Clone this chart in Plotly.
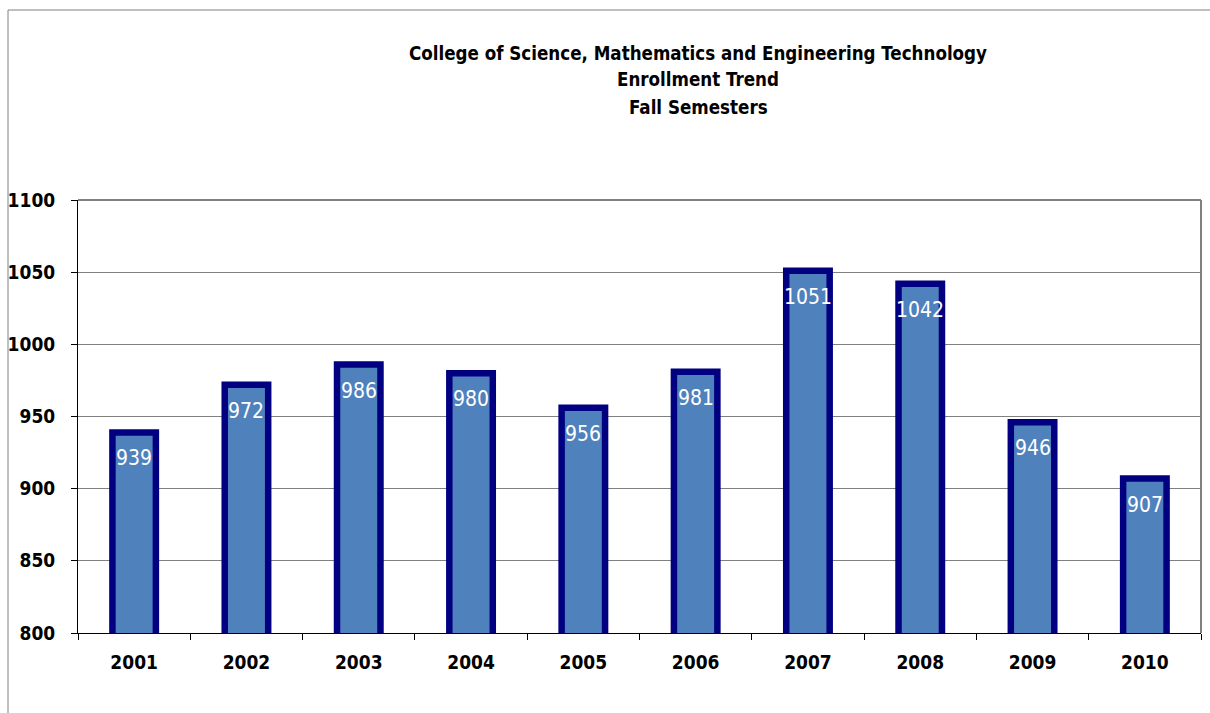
import plotly.graph_objects as go

years = ["2001", "2002", "2003", "2004", "2005", "2006", "2007", "2008", "2009", "2010"]
enrollment = [939, 972, 986, 980, 956, 981, 1051, 1042, 946, 907]
title_lines = ["College of Science, Mathematics and Engineering Technology",
               "Enrollment Trend", "Fall Semesters"]

FONT = "DejaVu Sans Condensed, Liberation Sans Narrow, Roboto Condensed, Roboto, sans-serif"

L, R, T, B = 78, 9, 200, 80
W, H = 1210, 713
pw = W - L - R
ph = H - T - B

def px_to_paper_x(px):
    return (px - L) / pw

def px_to_paper_y(py):
    return (H - B - py) / ph

fig = go.Figure()
fig.add_trace(go.Bar(
    x=years, y=enrollment,
    marker=dict(color="#4F81BD", line=dict(color="#000080", width=6.5)),
    hoverinfo="x+y",
))

for i, v in enumerate(enrollment):
    fig.add_annotation(x=i, y=v, xref="x", yref="y", text=str(v), showarrow=False,
                       yanchor="middle", yshift=-26,
                       font=dict(family=FONT, size=21, color="white"))

title_y = [53, 79, 107]
for line, py in zip(title_lines, title_y):
    fig.add_annotation(x=px_to_paper_x(698), y=px_to_paper_y(py), xref="paper", yref="paper",
                       text="<b>" + line + "</b>", showarrow=False,
                       xanchor="center", yanchor="middle",
                       font=dict(family=FONT, size=18.6, color="black"))

# outer chart border
fig.add_shape(type="line", xref="paper", yref="paper",
              x0=px_to_paper_x(8), x1=px_to_paper_x(1220),
              y0=px_to_paper_y(10), y1=px_to_paper_y(10),
              line=dict(color="#808080", width=1))
fig.add_shape(type="line", xref="paper", yref="paper",
              x0=px_to_paper_x(8), x1=px_to_paper_x(8),
              y0=px_to_paper_y(10), y1=px_to_paper_y(715),
              line=dict(color="#808080", width=1))
# plot area top/right border
fig.add_shape(type="line", xref="paper", yref="paper", x0=0, x1=1, y0=1, y1=1,
              line=dict(color="#808080", width=2))
fig.add_shape(type="line", xref="paper", yref="paper", x0=1, x1=1, y0=0, y1=1,
              line=dict(color="#808080", width=2))

fig.update_layout(
    width=W, height=H,
    margin=dict(l=L, r=R, t=T, b=B, autoexpand=False),
    paper_bgcolor="white", plot_bgcolor="white",
    bargap=0.613, showlegend=False,
    font=dict(family=FONT, color="black"),
)
fig.update_xaxes(
    type="category", showline=True, linecolor="black", linewidth=1,
    ticks="outside", tickson="boundaries", ticklen=6, tickcolor="black",
    tickfont=dict(family=FONT, size=19, color="black"),
    tickprefix="<b>", ticksuffix="</b>", tickangle=0,
    showgrid=False, automargin=False, ticklabelstandoff=12,
)
fig.update_yaxes(
    range=[800, 1100], dtick=50, showline=True, linecolor="black", linewidth=1,
    ticks="outside", ticklen=6, tickcolor="black",
    tickfont=dict(family=FONT, size=19, color="black"),
    tickprefix="<b>", ticksuffix="</b>",
    showgrid=True, gridcolor="#808080", gridwidth=1,
    ticklabelstandoff=12, zeroline=False, automargin=False,
)

fig.write_html("out.html", config={"displayModeBar": False})
with open("out.html", encoding="utf-8") as f:
    html = f.read()
html = html.replace("<body>", '<body style="margin:0;overflow:hidden">', 1)
with open("out.html", "w", encoding="utf-8") as f:
    f.write(html)
